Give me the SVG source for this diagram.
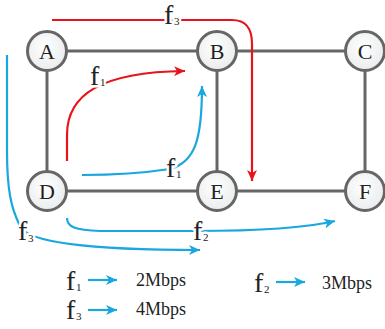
<svg xmlns="http://www.w3.org/2000/svg" width="385" height="329" viewBox="0 0 385 329">
<style>
.edge{stroke:#666;stroke-width:3;fill:none}
.node circle{fill:url(#ng);stroke:#666;stroke-width:3}
.node text{font-family:"Liberation Serif",serif;font-size:22px;fill:#222;text-anchor:middle}
.red{stroke:#e8141c;stroke-width:2.2;fill:none}
.blue{stroke:#1aa7e0;stroke-width:2.2;fill:none}
.f{font-family:"Liberation Serif",serif;font-size:28px;fill:#222}
.s{font-family:"Liberation Serif",serif;font-size:11px;fill:#222}
.halo{paint-order:stroke;stroke:#fff;stroke-width:5;stroke-linejoin:round}
.leg{font-family:"Liberation Serif",serif;font-size:18px;fill:#222}
</style>
<defs>
<radialGradient id="ng" cx="0.45" cy="0.4" r="0.7"><stop offset="0" stop-color="#ffffff"/><stop offset="1" stop-color="#e6e9ea"/></radialGradient>
<marker id="ar" markerUnits="userSpaceOnUse" markerWidth="12" markerHeight="10" refX="11" refY="5" orient="auto"><path d="M0,0 L11,5 L0,10 L3,5 Z" fill="#e8141c"/></marker>
<marker id="ab" markerUnits="userSpaceOnUse" markerWidth="12" markerHeight="10" refX="11" refY="5" orient="auto"><path d="M0,0 L11,5 L0,10 L3,5 Z" fill="#1aa7e0"/></marker>
</defs>
<g id="edges">
<line class="edge" x1="47" y1="51" x2="365" y2="51"/>
<line class="edge" x1="47" y1="191" x2="365" y2="191"/>
<line class="edge" x1="47" y1="51" x2="47" y2="191"/>
<line class="edge" x1="217" y1="51" x2="217" y2="191"/>
<line class="edge" x1="365" y1="51" x2="365" y2="191"/>
</g>
<g id="A" class="node"><circle cx="47" cy="51" r="19.5"/><text x="47" y="58.5">A</text></g>
<g id="B" class="node"><circle cx="217" cy="51" r="19.5"/><text x="217" y="58.5">B</text></g>
<g id="C" class="node"><circle cx="365" cy="51" r="19.5"/><text x="365" y="58.5">C</text></g>
<g id="D" class="node"><circle cx="47" cy="191" r="19.5"/><text x="47" y="198.5">D</text></g>
<g id="E" class="node"><circle cx="217" cy="191" r="19.5"/><text x="217" y="198.5">E</text></g>
<g id="F" class="node"><circle cx="365" cy="191" r="19.5"/><text x="365" y="198.5">F</text></g>
<g id="flows">
<path class="red" d="M52 20 L232 20 C246 20 252 28 252 44 L252 181" marker-end="url(#ar)"/>
<path class="red" d="M67 161 L67 135 C67 95 100 72 185 71" marker-end="url(#ar)"/>
<path class="blue" d="M82 175 C120 175 150 172 170 169 C195 162 202 140 202 86" marker-end="url(#ab)"/>
<path class="blue" d="M67 218 C67 227 75 230 100 231 L195 231 C260 231 310 227 335 221" marker-end="url(#ab)"/>
<path class="blue" d="M7 55 L7 150 C7 190 11 208 20 226 C25 238 60 250 200 250" marker-end="url(#ab)"/>
</g>
<g id="labels">
<text class="f halo" x="164" y="24">f</text><text class="s halo" x="174" y="25">3</text>
<text class="f halo" x="90" y="85">f</text><text class="s halo" x="100" y="86">1</text>
<text class="f halo" x="166" y="177">f</text><text class="s halo" x="176" y="178">1</text>
<text class="f halo" x="193" y="240">f</text><text class="s halo" x="203" y="241">2</text>
<text class="f halo" x="18" y="240">f</text><text class="s halo" x="28" y="242">3</text>
</g>
<g id="legend">
<text class="f" x="66" y="290">f</text><text class="s" x="76" y="291">1</text>
<line class="blue" x1="88" y1="280" x2="117" y2="280" marker-end="url(#ab)"/>
<text class="leg" x="136" y="286">2Mbps</text>
<text class="f" x="254" y="292">f</text><text class="s" x="264" y="293">2</text>
<line class="blue" x1="276" y1="282" x2="305" y2="282" marker-end="url(#ab)"/>
<text class="leg" x="322" y="289">3Mbps</text>
<text class="f" x="66" y="319">f</text><text class="s" x="76" y="320">3</text>
<line class="blue" x1="88" y1="310" x2="117" y2="310" marker-end="url(#ab)"/>
<text class="leg" x="136" y="315">4Mbps</text>
</g>
</svg>
